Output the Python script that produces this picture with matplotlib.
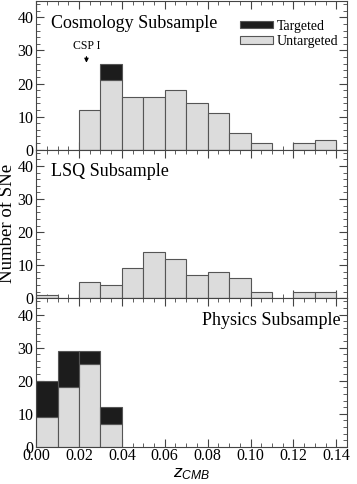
import matplotlib
matplotlib.use('Agg')
import matplotlib.pyplot as plt
import numpy as np
from matplotlib.ticker import MultipleLocator, FormatStrFormatter

plt.rcParams['font.family'] = ['Liberation Serif', 'DejaVu Serif']
plt.rcParams['mathtext.fontset'] = 'custom'
plt.rcParams['mathtext.it'] = 'Liberation Sans:italic'
plt.rcParams['mathtext.rm'] = 'Liberation Sans'

# bin left edges (width 0.01)
bin_width = 0.01
bin_left = np.arange(14) * bin_width

# counts per bin (0.00 .. 0.13)
cosmo_untargeted = [0, 0, 12, 21, 16, 16, 18, 14, 11, 5, 2, 0, 2, 3]
cosmo_targeted = [0, 0, 0, 5, 0, 0, 0, 0, 0, 0, 0, 0, 0, 0]
lsq_untargeted = [1, 0, 5, 4, 9, 14, 12, 7, 8, 6, 2, 0, 2, 2]
lsq_targeted = [0] * 14
phys_untargeted = [9, 18, 25, 7, 0, 0, 0, 0, 0, 0, 0, 0, 0, 0]
phys_targeted = [11, 11, 4, 5, 0, 0, 0, 0, 0, 0, 0, 0, 0, 0]

panels = [
    ("Cosmology Subsample", cosmo_untargeted, cosmo_targeted),
    ("LSQ Subsample", lsq_untargeted, lsq_targeted),
    ("Physics Subsample", phys_untargeted, phys_targeted),
]

GREY = '#dcdcdc'
DARK = '#1c1c1c'
EDGE = '#555555'

fig = plt.figure(figsize=(3.57, 4.84), dpi=100)
left, right = 0.101, 0.972
bottom = 0.077
h = (0.998 - bottom) / 3

axes = []
for i, (title, unt, tgt) in enumerate(panels):
    ax = fig.add_axes([left, bottom + (2 - i) * h, right - left, h])
    axes.append(ax)
    unt = np.array(unt)
    tgt = np.array(tgt)
    m = unt > 0
    ax.bar(bin_left[m], unt[m], width=bin_width, align='edge', color=GREY,
           edgecolor=EDGE, linewidth=0.8, label='Untargeted', zorder=2)
    mt = tgt > 0
    ax.bar(bin_left[mt], tgt[mt], bottom=unt[mt], width=bin_width, align='edge',
           color=DARK, edgecolor=EDGE, linewidth=0.8, label='Targeted', zorder=2)
    ax.set_xlim(0, 0.145)
    ax.set_ylim(0, 45)
    ax.xaxis.set_major_locator(MultipleLocator(0.02))
    ax.xaxis.set_minor_locator(MultipleLocator(0.005))
    ax.yaxis.set_major_locator(MultipleLocator(10))
    ax.yaxis.set_minor_locator(MultipleLocator(2))
    ax.tick_params(which='both', direction='in', top=True, right=True,
                   color='#444444', labelsize=11.5, pad=2)
    ax.tick_params(which='major', length=6, width=0.8)
    ax.tick_params(which='minor', length=3, width=0.6)
    for s in ax.spines.values():
        s.set_color('#444444')
        s.set_linewidth(0.8)
    if i < 2:
        ax.tick_params(labelbottom=False)
    else:
        ax.xaxis.set_major_formatter(FormatStrFormatter('%.2f'))
        ax.tick_params(axis='x', pad=1)
    if i == 2:
        ax.text(0.98, 0.85, title, transform=ax.transAxes, ha='right',
                va='center', fontsize=13)
    else:
        ax.text(0.048, 0.85, title, transform=ax.transAxes, ha='left',
                va='center', fontsize=13)

# legend in top panel
h_u, l_u = axes[0].get_legend_handles_labels()
axes[0].legend([h_u[1], h_u[0]], ['Targeted', 'Untargeted'], loc='upper right',
               bbox_to_anchor=(1.0, 0.93), frameon=False, fontsize=10,
               handlelength=2.4, handleheight=0.45, handletextpad=0.3,
               labelspacing=0.15, borderaxespad=0.2)

axes[0].annotate('CSP I', xy=(0.0235, 26.3), xytext=(0.0235, 29.4),
                 ha='center', va='bottom', fontsize=8.5,
                 arrowprops=dict(arrowstyle='-|>', color='black', lw=0.8,
                                 mutation_scale=6, shrinkA=1, shrinkB=0))

axes[1].set_ylabel('Number of SNe', fontsize=13.5, labelpad=1)
axes[2].set_xlabel(r'$z_{CMB}$', fontsize=12.5, labelpad=1)

fig.savefig('out.png', dpi=100)
